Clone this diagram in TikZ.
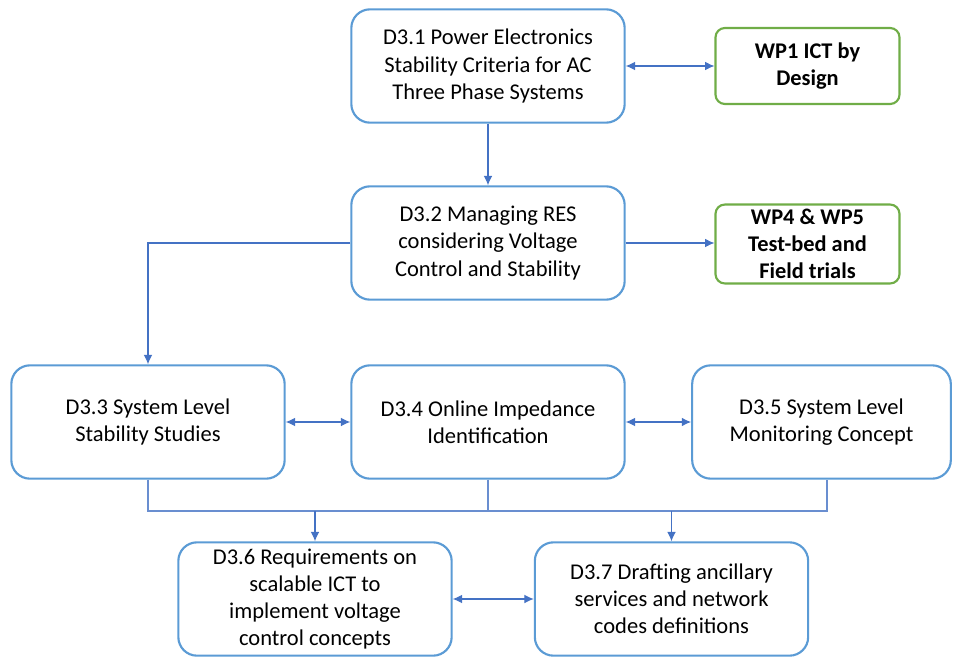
\documentclass[tikz,border=0pt]{standalone}
\usepackage{fontspec}
\setmainfont{Carlito}
\usepackage{xcolor}
\usetikzlibrary{arrows.meta}

\definecolor{boxblue}{HTML}{5B9BD5}
\definecolor{boxgreen}{HTML}{70AD47}
\definecolor{linkblue}{HTML}{4472C4}

\tikzset{
    task/.style={draw=boxblue, line width=1.6pt, rounded corners=14pt, fill=white,
        minimum width=205pt, minimum height=85pt, align=center,
        font=\fontsize{16.9}{20.4}\selectfont},
    wpbox/.style={draw=boxgreen, line width=1.6pt, rounded corners=7pt, fill=white,
        minimum width=138pt, minimum height=57pt, align=center,
        font=\fontsize{16.8}{20.4}\selectfont\bfseries},
    link/.style={draw=linkblue, line width=0.8pt, -{Latex[length=7pt,width=6.5pt]}},
    twoway/.style={link, {Latex[length=7pt,width=6.5pt]}-{Latex[length=7pt,width=6.5pt]}},
    bus/.style={draw=linkblue!80, line width=0.8pt}
}

\begin{document}
\begin{tikzpicture}[x=0.75pt, y=-0.75pt]
        \useasboundingbox (0,0) rectangle (953,657);

        % Deliverables
        \node[task] (d31) at (488,66) {D3.1 Power Electronics\\Stability Criteria for AC\\Three Phase Systems};
        \node[task] (d32) at (488,243) {D3.2 Managing RES\\considering Voltage\\Control and Stability};
        \node[task] (d33) at (148,422) {D3.3 System Level\\Stability Studies};
        \node[task] (d34) at (488,422) {D3.4 Online Impedance\\Identification};
        \node[task, minimum width=194pt] (d35) at (821.5,422) {D3.5 System Level\\Monitoring Concept};
        \node[task] (d36) at (315,599) {D3.6 Requirements on\\scalable ICT to\\implement voltage\\control concepts};
        \node[task] (d37) at (671.5,599) {D3.7 Drafting ancillary\\services and network\\codes definitions};

        % Other work packages
        \node[wpbox] (wp1) at (807.5,66) {WP1 ICT by\\Design};
        \node[wpbox, minimum height=58pt] (wp45) at (807.5,244) {WP4 \& WP5\\Test-bed and\\Field trials};

        \draw[twoway] (d31) -- (wp1);
        \draw[link] (d31) -- (d32);
        \draw[link] (d32.east) -- (d32.east -| wp45.west);
        \draw[link] (d32.west) -| (d33.north);
        \draw[twoway] (d33) -- (d34);
        \draw[twoway] (d34) -- (d35);

        % Collecting line under D3.3 to D3.5
        \coordinate (busl) at (148,511);
        \coordinate (busr) at (827,511);
        \draw[bus] (d33.south) -- (busl) -- (busr) -- (busr |- d35.south);
        \draw[bus] (d34.south) -- (d34.south |- busl);
        \draw[link] (d36.north |- busl) -- (d36.north);
        \draw[link] (d37.north |- busl) -- (d37.north);
        \draw[twoway] (d36) -- (d37);
    \end{tikzpicture}
\end{document}
